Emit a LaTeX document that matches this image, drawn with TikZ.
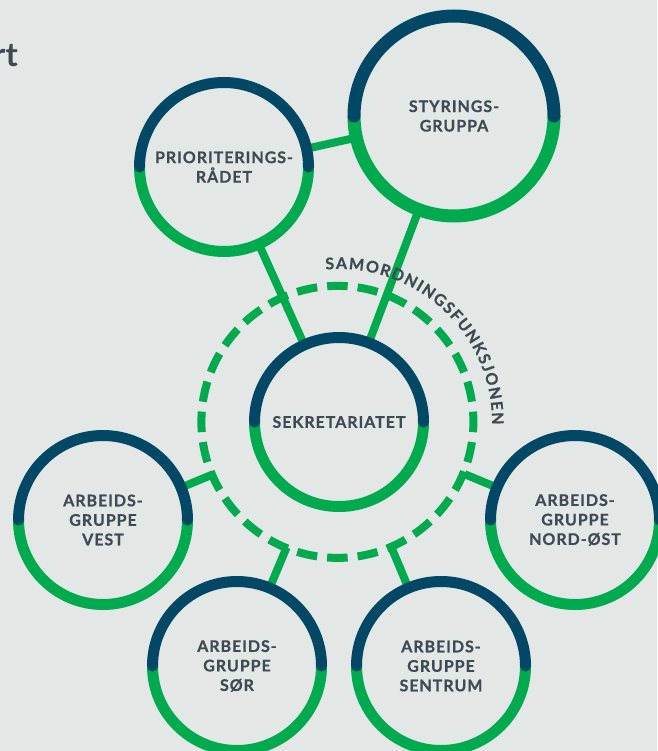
\documentclass[tikz,border=0pt]{standalone}
\usepackage{fontspec}
\setmainfont{Lato}
\newfontfamily\lab{Lato}[LetterSpace=6, BoldFeatures={FakeBold=0.6}]
\newfontfamily\arclab{Lato}[BoldFeatures={FakeBold=0.6}]
\usetikzlibrary{decorations.text}
\definecolor{bg}{RGB}{227,231,230}
\definecolor{navy}{RGB}{0,72,102}
\definecolor{grn}{RGB}{0,170,79}
\definecolor{txt}{RGB}{62,74,84}
\newcommand\arcfont{\arclab\bfseries\fontsize{16}{18}\selectfont}
\begin{document}
\begin{tikzpicture}[x=1pt,y=1pt,
  lbl/.style={circle, inner sep=0pt, outer sep=0pt, align=center, text=txt,
    font=\lab\bfseries\fontsize{16}{19.5}\selectfont},
  conn/.style={draw=grn, line width=8pt},
  ringg/.style={draw=grn, line width=11pt},
  ringn/.style={draw=navy, line width=11pt, line cap=round}]
\fill[bg] (0,0) rectangle (657,-751);
\useasboundingbox (0,0) rectangle (657,-751);

\node[anchor=base east, text=txt, font=\bfseries\fontsize{33}{36}\selectfont, inner sep=0pt] (title) at (18,-67) {rt};

\node[lbl, minimum size=169pt] (prior) at (224,-167) {PRIORITERINGS-\\RÅDET};
\node[lbl, minimum size=200pt] (styr) at (454,-116) {STYRINGS-\\GRUPPA};
\node[lbl, minimum size=169pt] (sek) at (339,-422) {SEKRETARIATET};
\node[circle, minimum size=272pt, inner sep=0pt, outer sep=0pt] (ring) at (339,-422) {};
\node[lbl, minimum size=169pt] (vest) at (103,-520) {ARBEIDS-\\GRUPPE\\VEST};
\node[lbl, minimum size=169pt] (nost) at (575,-520) {ARBEIDS-\\GRUPPE\\NORD-ØST};
\node[lbl, minimum size=169pt] (sor) at (237,-666) {ARBEIDS-\\GRUPPE\\SØR};
\node[lbl, minimum size=169pt] (sent) at (441,-666) {ARBEIDS-\\GRUPPE\\SENTRUM};

% connectors
\draw[conn] (prior) -- (styr);
\draw[conn] (prior) -- (sek);
\draw[conn] (styr) -- (sek);
\draw[conn] (vest) -- (ring);
\draw[conn] (nost) -- (ring);
\draw[conn] (sor) -- (ring);
\draw[conn] (sent) -- (ring);

% dashed coordination ring
\draw[grn, line width=8pt, dash pattern=on 20.5pt off 10.02pt]
  (ring.265.68) arc[start angle=265.68, delta angle=360, radius=136];

% rings
\foreach \n in {prior,sek,vest,nost,sor,sent} {
  \draw[ringg] (\n.east) arc[start angle=0, end angle=-180, radius=84.5];
  \draw[ringn] (\n.east) arc[start angle=0, end angle=180, radius=84.5];
}
\draw[ringg, line width=13pt] (styr.east) arc[start angle=0, end angle=-180, radius=100];
\draw[ringn, line width=13pt] (styr.east) arc[start angle=0, end angle=180, radius=100];

% curved label
\path[decorate, decoration={text along path, text color=txt,
    text={|\arcfont|SAMORDNINGSFUNKSJONEN}, text align=fit to path}]
  (sek.center) ++(95:153) arc[start angle=95, end angle=-1, radius=153];
\end{tikzpicture}
\end{document}
